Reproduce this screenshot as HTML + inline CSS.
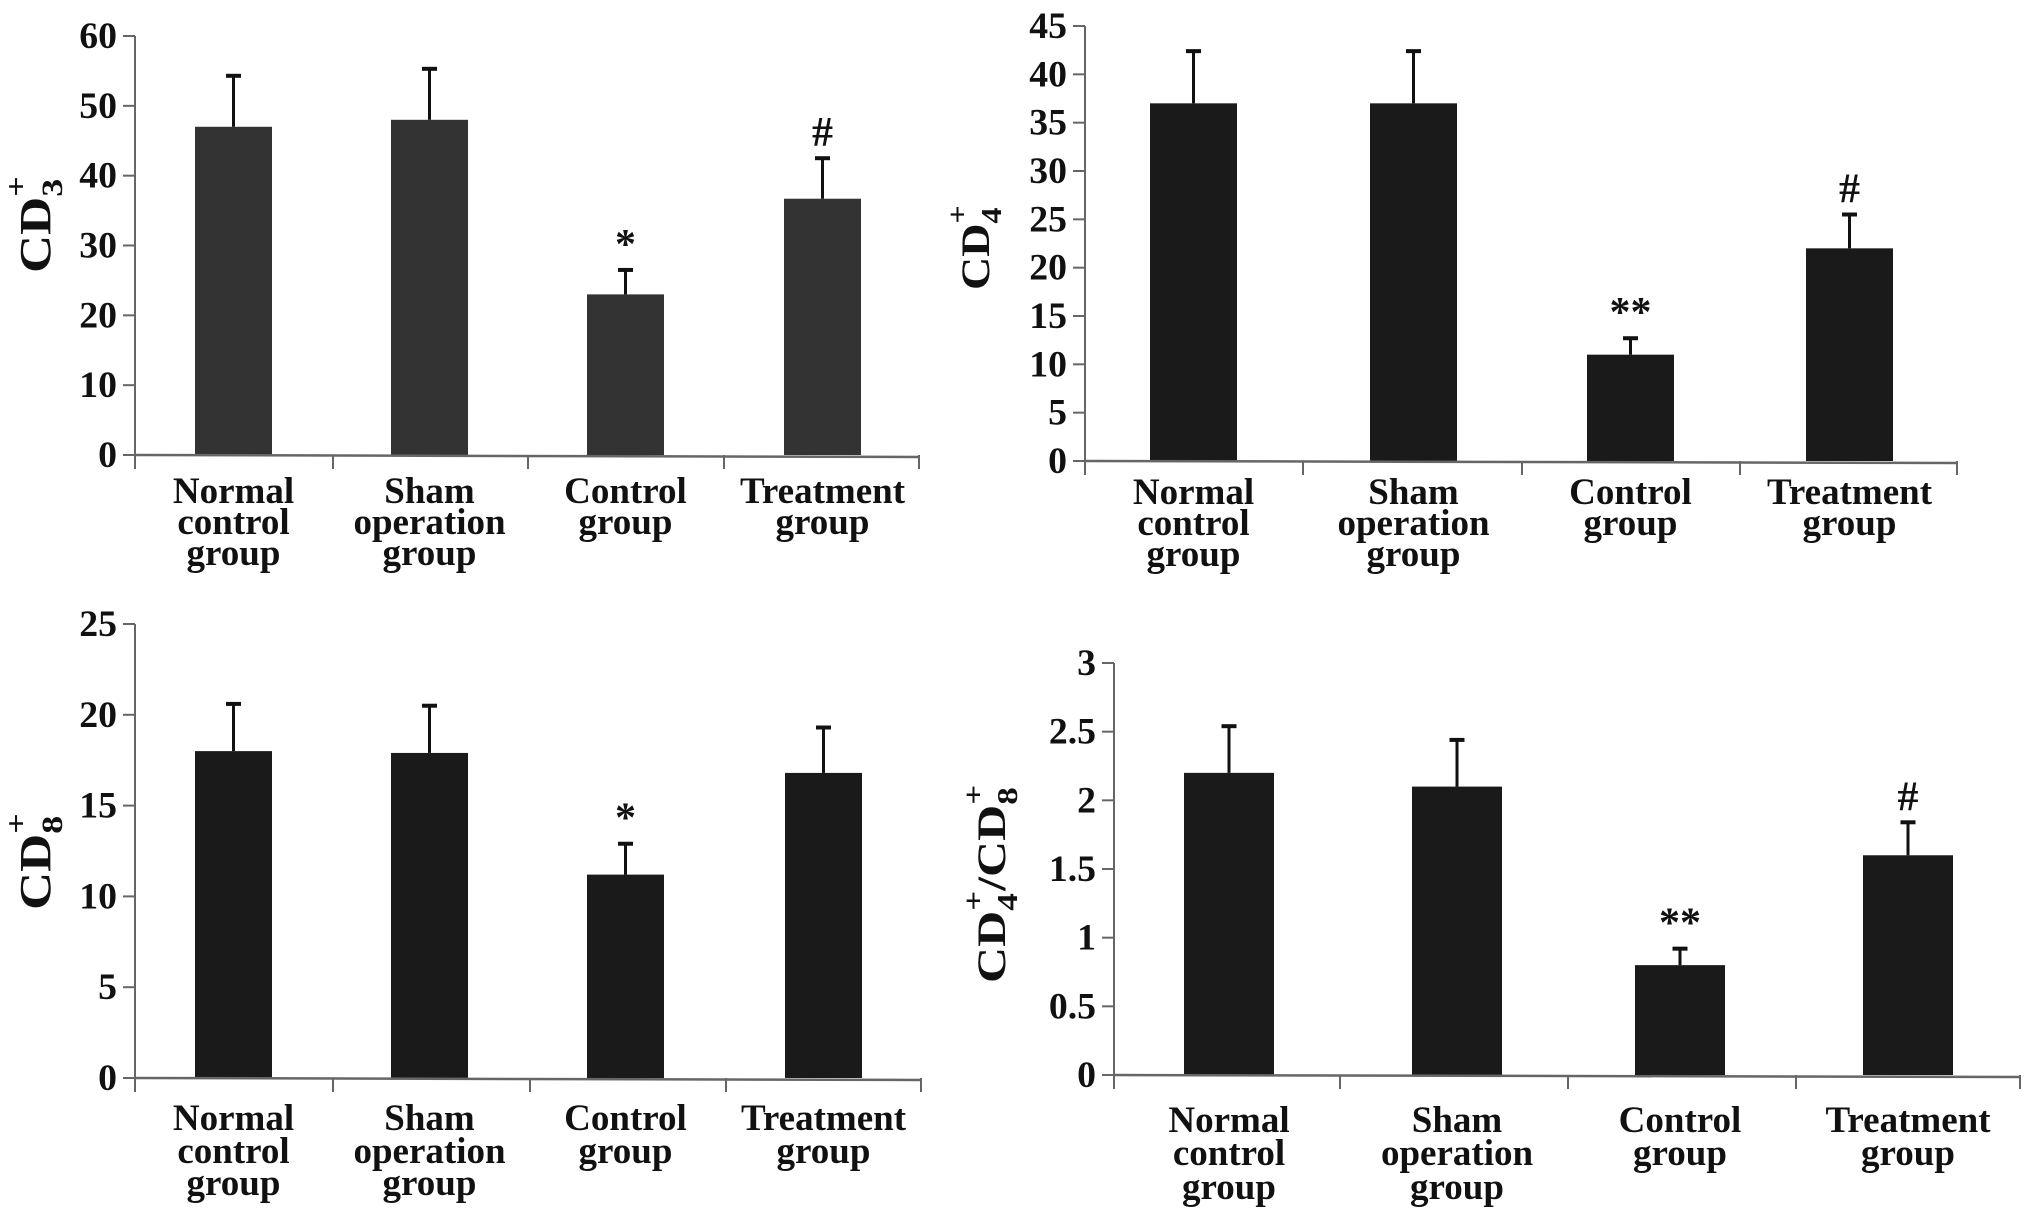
<!DOCTYPE html>
<html><head><meta charset="utf-8">
<style>
html,body{margin:0;padding:0;background:#fff;}
svg{display:block;}
text{font-family:"Liberation Serif",serif;font-weight:bold;fill:#111;}
</style></head>
<body>
<svg id="fig" width="2031" height="1219" viewBox="0 0 2031 1219">
<g><text transform="translate(50,273) rotate(-90) scale(1.2,1)" font-size="44">CD<tspan font-size="30" dy="12">3</tspan><tspan font-size="30" dx="-15" dy="-36">+</tspan></text></g>
<g><text transform="translate(989,290) rotate(-90) scale(1.15,1)" font-size="40">CD<tspan font-size="28" dy="12">4</tspan><tspan font-size="28" dx="-14" dy="-34">+</tspan></text></g>
<g><text transform="translate(50,910) rotate(-90) scale(1.2,1)" font-size="44">CD<tspan font-size="30" dy="12">8</tspan><tspan font-size="30" dx="-15" dy="-36">+</tspan></text></g>
<g><text transform="translate(1005,983) rotate(-90) scale(1.25,1)" font-size="40">CD<tspan font-size="28" dy="12">4</tspan><tspan font-size="28" dx="-14" dy="-34">+</tspan><tspan dy="22">/CD</tspan><tspan font-size="28" dy="12">8</tspan><tspan font-size="28" dx="-14" dy="-34">+</tspan></text></g>
</svg>
<script>
const categories = [["Normal","control","group"],["Sham","operation","group"],["Control","group"],["Treatment","group"]];
const cd3Values = [47, 48, 23, 36.7];
const cd3Errors = [54.3, 55.3, 26.5, 42.5];
const cd3Marks = ["", "", "*", "#"];
const cd3Ticks = [0,10,20,30,40,50,60];
const cd4Values = [37, 37, 11, 22];
const cd4Errors = [42.4, 42.4, 12.7, 25.5];
const cd4Marks = ["", "", "**", "#"];
const cd4Ticks = [0,5,10,15,20,25,30,35,40,45];
const cd8Values = [18, 17.9, 11.2, 16.8];
const cd8Errors = [20.6, 20.5, 12.9, 19.3];
const cd8Marks = ["", "", "*", ""];
const cd8Ticks = [0,5,10,15,20,25];
const ratioValues = [2.2, 2.1, 0.8, 1.6];
const ratioErrors = [2.54, 2.44, 0.92, 1.84];
const ratioMarks = ["", "", "**", "#"];
const ratioTicks = [0,0.5,1,1.5,2,2.5,3];

const NS = "http://www.w3.org/2000/svg";
const svg = document.getElementById('fig');
function mk(tag, attrs, parent){
  const e = document.createElementNS(NS, tag);
  for (const k in attrs) e.setAttribute(k, attrs[k]);
  parent.appendChild(e);
  return e;
}
function panel(name, cfg, values, errors, marks, ticks){
  const g = mk('g', {}, svg);
  
  
  const max = ticks[ticks.length-1];
  const y = v => cfg.y0 - (cfg.y0 - cfg.yTop) * v / max;
  const xEnd = cfg.bounds[cfg.bounds.length-1];
  const ya = mk('line', {x1:cfg.ax, y1:y(max), x2:cfg.ax, y2:cfg.y0+14, stroke:'#666', 'stroke-width':2}, g);
  
  
  ticks.forEach(t => {
    mk('line', {x1:cfg.ax-12, y1:y(t), x2:cfg.ax, y2:y(t), stroke:'#666', 'stroke-width':2}, g);
    const tl = mk('text', {transform:`translate(${cfg.ax-18},${y(t)+12}) scale(1.02,1)`, 'font-size':37, 'text-anchor':'end'}, g);
    tl.textContent = String(t);
    
    
  });
  values.forEach((v, i) => {
    const bx = cfg.barX[i];
    const b = mk('rect', {x:bx, y:y(v), width:cfg.bw, height:cfg.y0 - y(v), fill:cfg.color}, g);
    
    
    const cx = bx + cfg.bw/2;
    const eb = mk('g', {}, g);
    
    
    mk('line', {x1:cx, y1:y(v), x2:cx, y2:y(errors[i]), stroke:'#111', 'stroke-width':3}, eb);
    mk('rect', {x:cx-7.5, y:y(errors[i])-2, width:15, height:4, fill:'#111'}, eb);
    if (marks[i]) {
      const m = mk('text', {x:cx, y:y(errors[i])-12, 'font-size':42, 'text-anchor':'middle'}, g);
      m.textContent = marks[i];
      
      
    }
    categories[i].forEach((line, k) => {
      const t = mk('text', {transform:`translate(${cx},${cfg.lab[k]}) scale(1.0,1)`, 'font-size':37, 'text-anchor':'middle'}, g);
      t.textContent = line;
      
      
    });
  });
  const xa = mk('line', {x1:cfg.ax, y1:cfg.y0, x2:xEnd, y2:cfg.y0+2, stroke:'#666', 'stroke-width':2.5}, g);
  
  
  cfg.bounds.forEach(bx => mk('line', {x1:bx, y1:cfg.y0, x2:bx, y2:cfg.y0+14, stroke:'#666', 'stroke-width':2}, g));
}
panel('cd3', {ax:135, y0:455, yTop:36, bw:77, barX:[195,391,587,784], bounds:[333,528,724,919], lab:[503,534,565], color:'#333'}, cd3Values, cd3Errors, cd3Marks, cd3Ticks);
panel('cd4', {ax:1085, y0:461, yTop:26, bw:87, barX:[1150,1370,1587,1806], bounds:[1303,1522,1740,1957], lab:[504,535,566], color:'#1a1a1a'}, cd4Values, cd4Errors, cd4Marks, cd4Ticks);
panel('cd8', {ax:135, y0:1078, yTop:624, bw:77, barX:[195,391,587,785], bounds:[333,530,726,921], lab:[1130,1163,1195], color:'#1a1a1a'}, cd8Values, cd8Errors, cd8Marks, cd8Ticks);
panel('ratio', {ax:1114, y0:1075, yTop:663, bw:90, barX:[1184,1412,1635,1863], bounds:[1340,1568,1796,2020], lab:[1132,1165,1199], color:'#1a1a1a'}, ratioValues, ratioErrors, ratioMarks, ratioTicks);
</script>
</body></html>
